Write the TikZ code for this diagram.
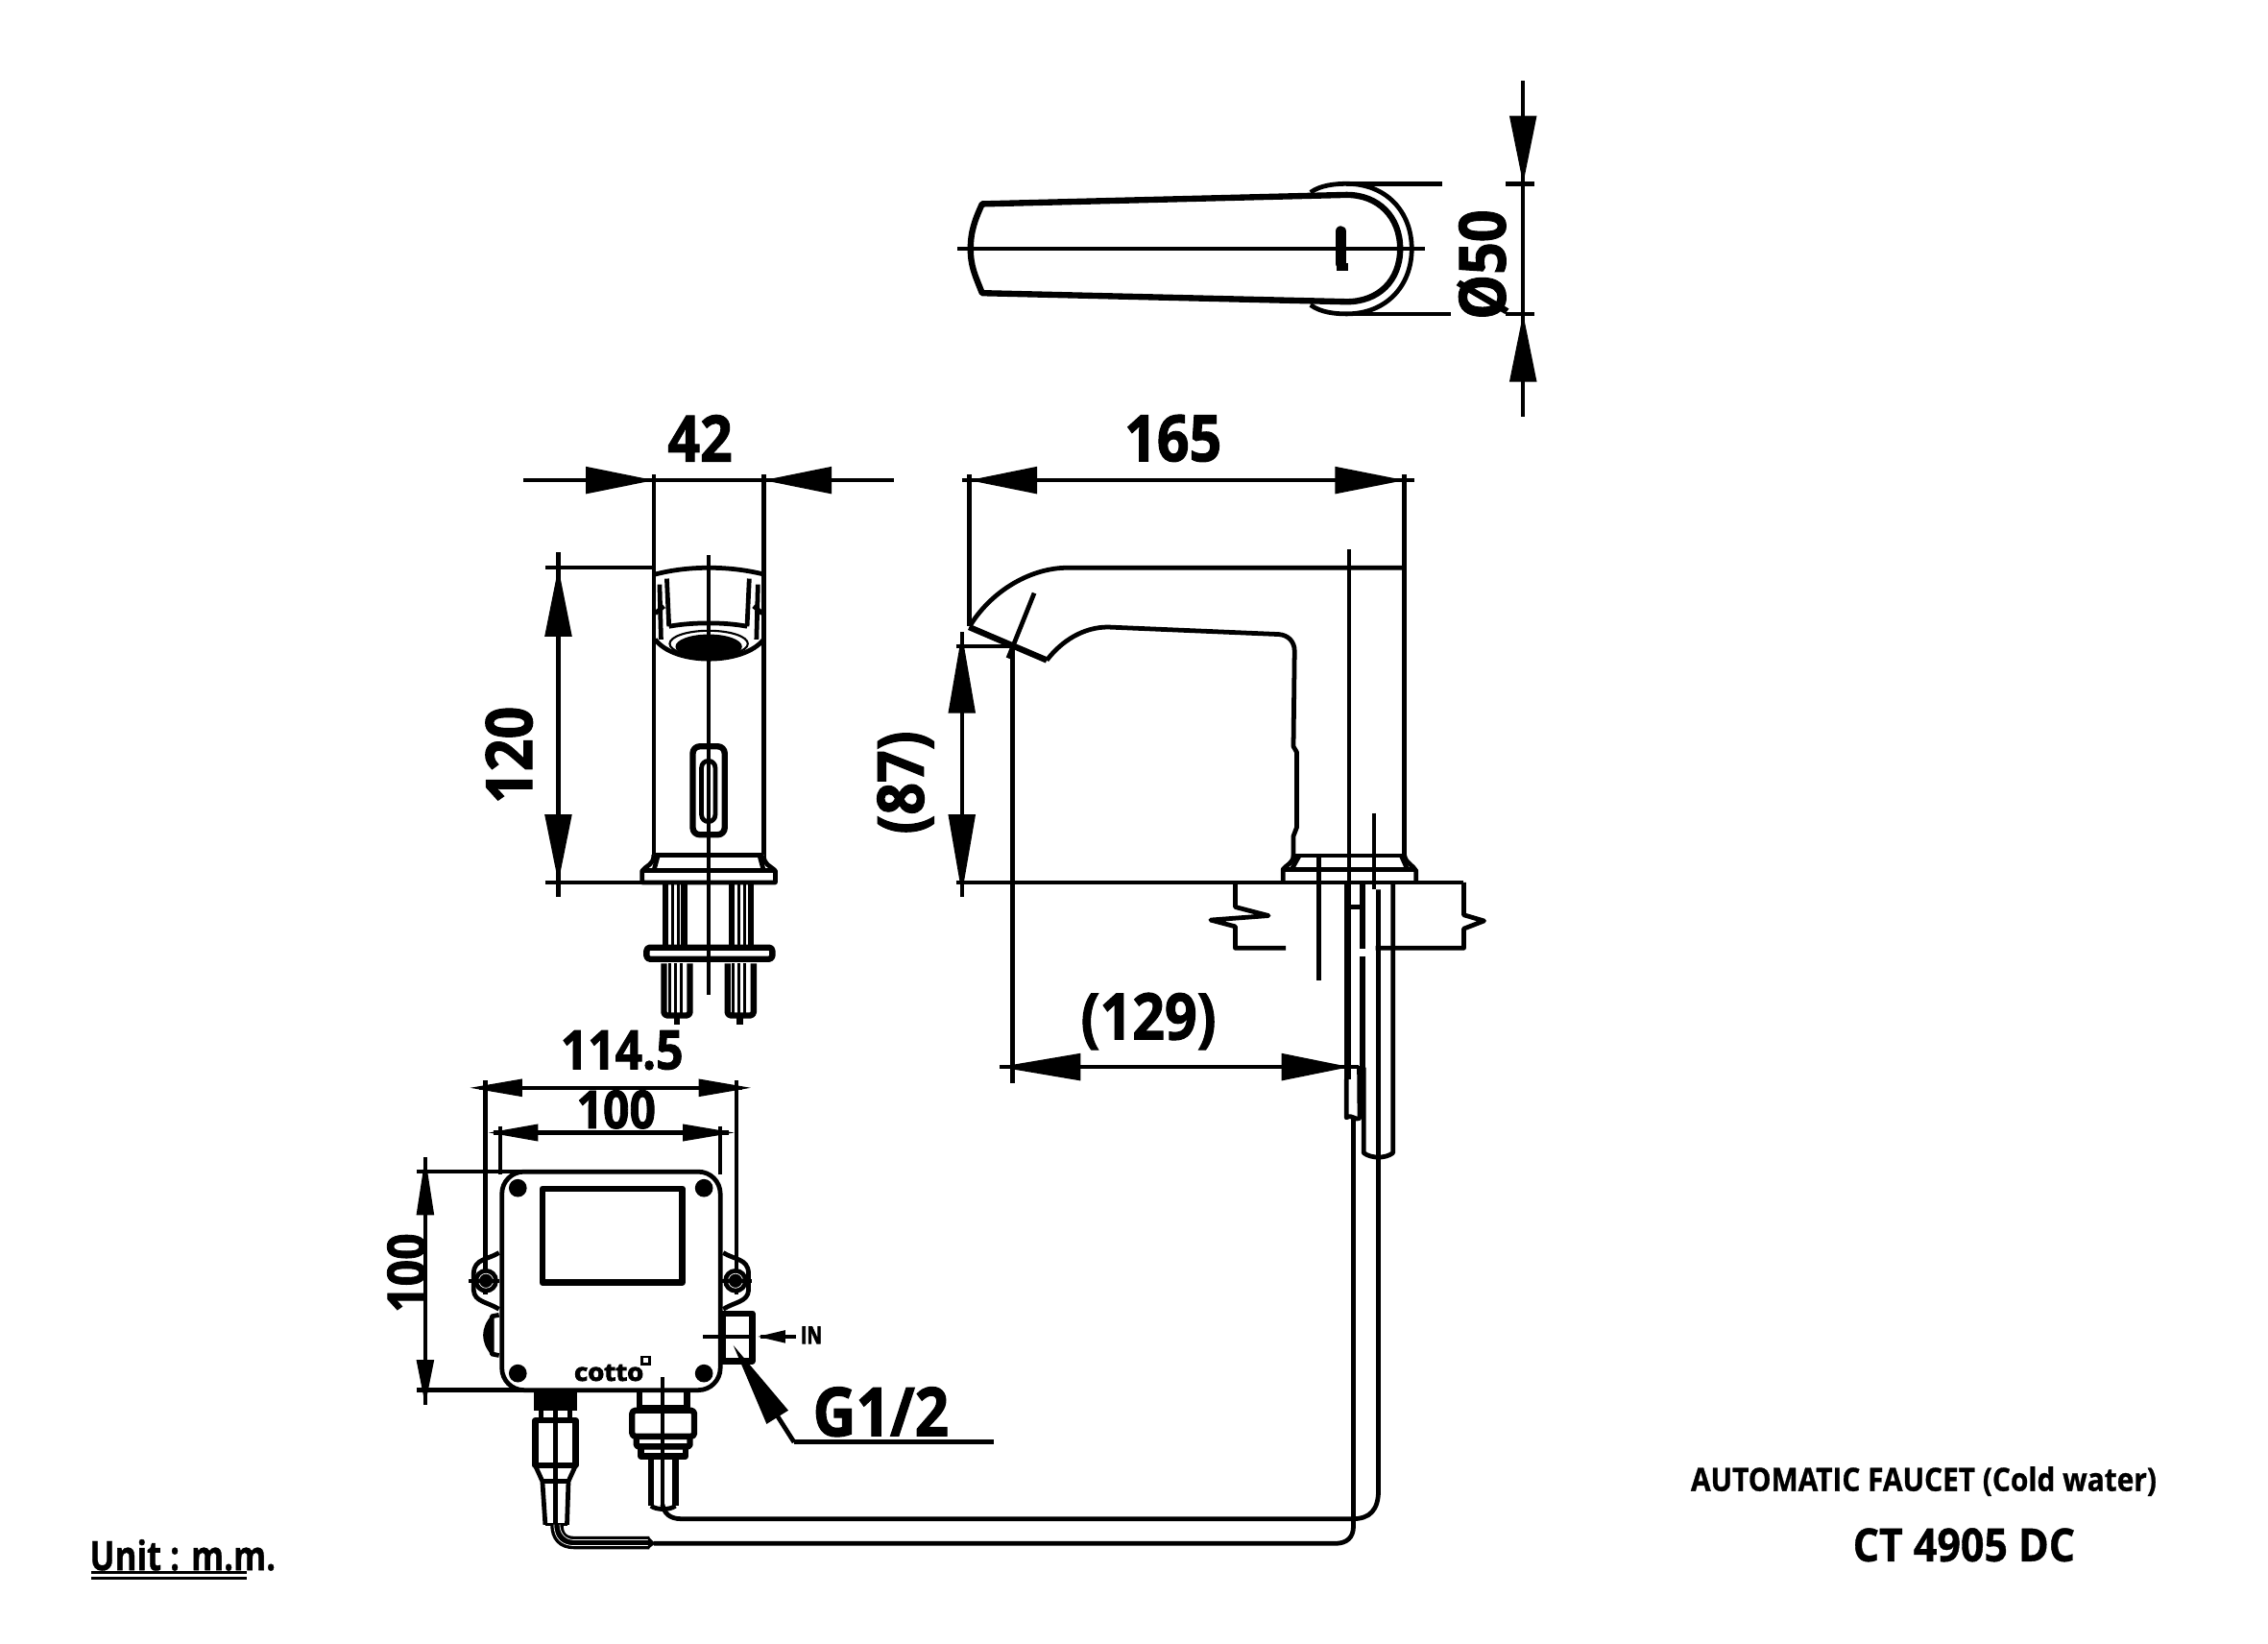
\documentclass[tikz,border=0pt]{standalone}
\usepackage{fontspec}
\usepackage{graphicx}
\setmainfont{Open Sans}
\newfontfamily\dfont[UprightFont={* Bold},FakeStretch=0.88,FakeBold=1.5]{Open Sans}
\newfontfamily\cfont[UprightFont={* Bold},FakeBold=0.9]{Open Sans}
\newfontfamily\lfont[UprightFont={* Bold},FakeBold=3.5]{Open Sans}
\newcommand{\dimfont}[1]{\fontsize{#1}{#1}\selectfont\dfont}
\newcommand{\ahx}[4]{\fill (#1,#2) -- (#3,#2-#4) -- (#3,#2+#4) -- cycle;}
\newcommand{\ahy}[4]{\fill (#1,#2) -- (#1-#4,#3) -- (#1+#4,#3) -- cycle;}
\tikzset{
  ln/.style={line width=2.7pt,line join=round},
  dm/.style={line width=2.5pt},
  hv/.style={line width=3.6pt,line join=round},
  tx/.style={inner sep=0pt,outer sep=0pt,text=black}
}
\begin{document}
\begin{tikzpicture}[x=0.03cm,y=-0.03cm]
\fill[white] (-1,0) rectangle (1567,1136.5);
\useasboundingbox (-1,0) rectangle (1567,1136.5);

% ---------- top view
\draw[ln] (661,172) -- (984,172);
\draw[hv] (678,141) -- (930,134.7) .. controls (952,134.7) and (967,150) .. (967,172)
  .. controls (967,194) and (952,208.6) .. (930,208.6) -- (678,202.6)
  .. controls (673,190) and (670,184) .. (670,172) .. controls (670,160) and (673,152) .. (678,141) -- cycle;
\draw[ln] (905,133) .. controls (912,128) and (922,127) .. (930,127)
  .. controls (957,127) and (975,146) .. (975,172)
  .. controls (975,198) and (957,217) .. (930,217)
  .. controls (922,217) and (912,216) .. (905,210.8);
\draw[line width=6.5pt,line cap=round] (926,160) -- (926,182);
\fill (923,182) rectangle (931,187);
\draw[dm] (930,127) -- (996,127);
\draw[dm] (930,217) -- (1002,217);
\draw[dm] (1052,56) -- (1052,288);
\draw[dm] (1040,127) -- (1060,127);
\draw[dm] (1040,217) -- (1060,217);
\ahy{1052}{127}{80}{9.5}
\ahy{1052}{217}{264}{9.5}
\node[tx,rotate=90] (t50) at (1024,183) {\dimfont{38}Ø50};

% ---------- front view
\draw[dm] (361,332) -- (617,332);
\ahx{451}{332}{404}{9.5}
\ahx{527}{332}{574}{9.5}
\node[tx] (t42) at (483,303) {\dimfont{38}42};
\draw[ln] (451,328) -- (451,591);
\draw[ln] (527,328) -- (527,591);
\draw[dm] (385,382) -- (385,620);
\ahy{385}{392.5}{440}{9.5}
\ahy{385}{610}{563}{9.5}
\draw[dm] (376,392.5) -- (451,392.5);
\draw[dm] (376,610) -- (444,610);
\node[tx,rotate=90] (t120) at (351,522) {\dimfont{38}120};
\draw[dm] (489,384) -- (489,688);
% aerator
\draw[ln] (452,397) .. controls (475,391) and (503,391) .. (527,397);
\draw[ln] (460,400) -- (461.5,433);
\draw[ln] (517,400) -- (515.5,433);
\draw[ln] (461.5,433) .. controls (478,430) and (500,430) .. (515.5,433);
\draw[ln] (455,404) -- (456,442);
\draw[ln] (523,404) -- (522,442);
\draw[ln] (452,424) -- (458,419);
\draw[ln] (526,424) -- (520,419);
\draw[ln] (452,442) .. controls (465,460) and (513,460) .. (527,442);
\draw[line width=1.2pt] (489,445) ellipse (27 and 9);
\fill (489,447) ellipse (23 and 8.5);
% sensor window
\draw[hv,rounded corners=4pt] (478,516) rectangle (500,577);
\draw[ln,rounded corners=4pt] (484,526) rectangle (493.5,568);
% base
\draw[ln] (451,591) -- (527,591);
\draw[ln] (451,591) .. controls (451,598) and (446,598) .. (443,602) -- (443,610) -- (535,610) -- (535,602) .. controls (531,598) and (527,598) .. (527,591);
\draw[ln] (443,602) -- (535,602);
\draw[ln] (454,591) -- (451,602);
\draw[ln] (524,591) -- (527,602);
% studs
\draw[hv] (459,611) -- (459,655);
\draw[hv] (472,611) -- (472,655);
\draw[line width=1.6pt] (464,611) -- (464,655);
\draw[line width=1.6pt] (468,611) -- (468,655);
\draw[hv] (505,611) -- (505,655);
\draw[hv] (518,611) -- (518,655);
\draw[line width=1.6pt] (510,611) -- (510,655);
\draw[line width=1.6pt] (514,611) -- (514,655);
\draw[hv,rounded corners=2pt] (446,655) rectangle (533,663);
\draw[hv,rounded corners=2pt] (458,666) -- (458,702) -- (476,702) -- (476,666);
\foreach \q in {462,466,470}{\draw[line width=1.5pt] (\q,666) -- (\q,702);}
\draw[hv,rounded corners=2pt] (502,666) -- (502,702) -- (520,702) -- (520,666);
\foreach \q in {506,510,514}{\draw[line width=1.5pt] (\q,666) -- (\q,702);}
\draw[hv] (467,702) -- (467,708);
\draw[hv] (510.5,702) -- (510.5,708);

% ---------- side view
\draw[dm] (664,332) -- (977,332);
\ahx{669}{332}{716}{9.5}
\ahx{970}{332}{922}{9.5}
\node[tx] (t165) at (810,303) {\dimfont{38}165};
\draw[ln] (669,328) -- (669,433);
\draw[ln] (970,328) -- (970,592);
\draw[ln] (670,432) .. controls (685,408) and (712,392.5) .. (737,392.5) -- (970,392.5);
\draw[hv] (669,433.5) -- (722.7,456.4);
\draw[ln] (722.7,456.4) .. controls (733,443) and (748,433.5) .. (765,433.5) -- (883,438.5)
  .. controls (890,439) and (894,444) .. (894,450) -- (893.2,516) -- (895.5,520) -- (895.5,572) -- (893.2,578) -- (893.2,591.5);
\draw[ln] (893.2,591.5) -- (970,591.5);
\draw[ln] (893.2,591.5) .. controls (893,597) and (888,598) .. (886,601) -- (886,609);
\draw[ln] (970,591.5) .. controls (971,597) and (976,598) .. (978,602) -- (978,609);
\draw[ln] (886,601) -- (978,601);
\draw[ln] (897,592) -- (892,601);
\draw[ln] (968,592) -- (972,601);
% spray and extension
\draw[ln] (714,410) -- (696,455);
\draw[dm] (699,446) -- (699,749);
\draw[dm] (660,446.6) -- (699,446.6);
\draw[dm] (664,437) -- (664,620);
\ahy{664}{438}{493}{9.5}
\ahy{664}{618}{563}{9.5}
\node[tx,rotate=90] (t87) at (625,541) {\dimfont{38}(87)};
\draw[dm] (660,610) -- (1011,610);
% 129
\draw[dm] (690,737.6) -- (938,737.6);
\ahx{690}{737.6}{746}{9.5}
\ahx{932}{737.6}{885}{9.5}
\node[tx] (t129) at (793,706) {\dimfont{38}(129)};
\draw[dm] (931.8,380) -- (931.8,746);
\draw[dm] (949,562) -- (949,615);
\draw[dm] (910.8,590) -- (910.8,678);
% counter section
\draw[ln] (888,655.4) -- (853,655.4) -- (853,640.5) -- (836,636) -- (876,633) -- (853,627) -- (853,610);
\draw[ln] (950,655.4) -- (1011,655.4) -- (1011,642) -- (1025,636.6) -- (1011,632.5) -- (1011,610);
% tubes
\draw[line width=4pt] (930.5,610) -- (930.5,746);
\draw[ln] (929.8,746) -- (929.8,772.6) .. controls (934,770) and (936,775) .. (939,773) -- (938.7,737);
\draw[line width=3.8pt] (941,610) -- (941,656);
\draw[line width=3.8pt] (941,661) -- (941,738);
\draw[ln] (941.8,738) -- (941.8,797) .. controls (947,801) and (957,801) .. (962,797) -- (962,610);
\draw[ln] (933,627) -- (941,627);
\draw[ln] (952,615) -- (952,1030) .. controls (952,1044) and (946,1050) .. (934,1050) -- (470,1050) .. controls (462,1050) and (458,1046) .. (457,1040);
\draw[ln] (934.7,773) -- (934.7,1055) .. controls (934.7,1063) and (930,1067) .. (922,1067) -- (451,1067);

% ---------- control box
\draw[ln,rounded corners=13pt] (346,810) rectangle (497,961);
\draw[dm] (287,810) -- (360,810);
\draw[dm] (287,961) -- (360,961);
\draw[dm] (293,800) -- (293,971);
\ahy{293}{800}{840}{6.2}
\ahy{293}{971}{940}{6.2}
\node[tx,rotate=90] (tv100) at (280,880) {\dimfont{31}100};
\foreach \a/\b in {357/821.3,485.7/821.3,357/949.4,485.7/949.4}{\fill (\a,\b) circle (6.2);}
\draw[hv] (374,821.7) rectangle (470.7,886.6);
\node[tx] (tlogo) at (420,949) {\scalebox{0.78}[0.72]{\fontsize{20}{20}\selectfont\lfont cotto}};
\draw[line width=1.6pt] (443,938) rectangle (448,943);
% top dims
\draw[dm] (334.5,747) -- (334.5,895);
\draw[dm] (508,747) -- (508,895);
\draw[dm] (345,778.5) -- (345,812);
\draw[dm] (497,778.5) -- (497,812);
\draw[dm] (330,752) -- (512,752);
\ahx{324}{752}{360}{6.2}
\ahx{518}{752}{482}{6.2}
\node[tx] (t1145) at (429,726) {\dimfont{32}114.5};
\draw[dm] (340,783) -- (503,783);
\ahx{337}{783}{371}{6}
\ahx{506.5}{783}{471}{6}
\node[tx] (t100) at (425,767) {\dimfont{31}100};
% ears
\draw[ln] (344,866) .. controls (336,871) and (327,870) .. (326.5,880) -- (326.5,892) .. controls (327,900) and (336,900) .. (344,905);
\draw[ln] (499,866) .. controls (507,871) and (516,870) .. (516.5,880) -- (516.5,892) .. controls (516,900) and (507,900) .. (499,905);
\fill (335,885.4) circle (8.5);
\fill (507.5,885.4) circle (8.5);
\draw[white,line width=0.4pt] (335,885.4) circle (5);
\draw[white,line width=0.4pt] (507.5,885.4) circle (5);
\draw[dm] (323,885.4) -- (344,885.4);
\draw[dm] (498,885.4) -- (519,885.4);
% knob
\draw[ln] (344,909) -- (339,910) -- (339,936) -- (344,937);
\fill (339,909) .. controls (331,918) and (331,928) .. (339,937) -- cycle;
% fitting and arrows
\draw[hv] (498.5,908) -- (519,908) -- (519,941) -- (498.5,941) -- cycle;
\draw[dm] (485,924) -- (519,924);
\draw[dm] (525,924) -- (549,924);
\ahx{523}{924}{542}{4.5}
\node[tx] (tin) at (560,923) {\scalebox{0.78}[1]{\fontsize{14}{14}\selectfont\lfont IN}};
\draw[ln] (548,997) -- (534,975);
\draw[ln] (548,997) -- (686,997);
\fill (506,930) -- (544,975) -- (529,984.4) -- cycle;
\node[tx] (tg) at (608,976) {\dimfont{40}G1/2};
% left connector
\fill (368,961) rectangle (398,975);
\draw[line width=2.4pt] (373,975) -- (373,982);
\draw[line width=2.4pt] (393,975) -- (393,982);
\draw[hv] (369,982) rectangle (397,1013);
\draw[dm] (383,961) -- (383,1054);
\draw[ln] (369,1013) -- (374,1024) -- (376,1054);
\draw[ln] (397,1013) -- (392,1024) -- (391,1054);
\draw[ln] (374,1024) -- (392,1024);
\draw[line width=1.6pt] (376,1054) -- (391,1054);
\draw[line width=7.6pt] (384,1054) .. controls (384,1062) and (388,1066.5) .. (396,1066.5) -- (448,1066.5);
\draw[white,line width=0.4pt] (382,1054) .. controls (382,1064) and (388,1068.5) .. (396,1068.5) -- (448,1068.5);
\draw[white,line width=0.4pt] (386,1054) .. controls (386,1060) and (390,1064.5) .. (396,1064.5) -- (448,1064.5);
\fill (447,1062) -- (452,1067) -- (447,1071) -- cycle;
% right connector
\draw[dm] (457,952) -- (457,1042);
\draw[hv] (441,961) -- (441,973);
\draw[hv] (474,961) -- (474,973);
\draw[ln] (441,973) -- (474,973);
\draw[hv,rounded corners=2pt] (436,975) rectangle (479,993);
\draw[hv,rounded corners=1pt] (439,993) -- (439,1000) -- (476,1000) -- (476,993);
\draw[hv] (442,1000) -- (442,1006.6) -- (473,1006.6) -- (473,1000);
\draw[hv] (449,1006.6) -- (449,1041);
\draw[hv] (466,1006.6) -- (466,1041);
\draw[ln] (449,1041) .. controls (453,1044) and (462,1044) .. (466,1041);

% ---------- captions
\node[tx,anchor=west] (tauto) at (1168,1024) {\scalebox{0.89}[1]{\fontsize{19}{19}\selectfont\cfont AUTOMATIC FAUCET (Cold water)}};
\node[tx,anchor=west] (tct) at (1280,1068) {\scalebox{0.9}[1]{\fontsize{27}{27}\selectfont\cfont CT 4905 DC}};
\node[tx,anchor=west] (tunit) at (61,1075) {\scalebox{0.82}[1]{\fontsize{24}{24}\selectfont\cfont Unit : m.m.}};
\draw[line width=1.5pt] (62,1087) -- (169.5,1087);
\draw[line width=1.5pt] (62,1091) -- (169.5,1091);
\end{tikzpicture}
\end{document}
